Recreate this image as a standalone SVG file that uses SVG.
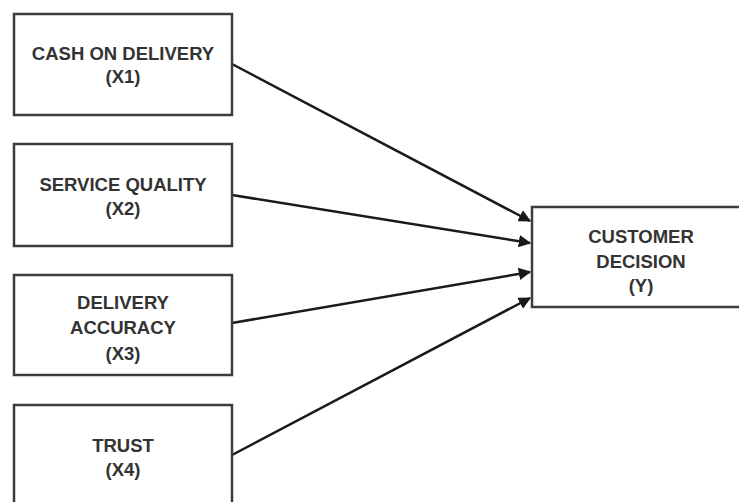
<svg xmlns="http://www.w3.org/2000/svg" width="739" height="502" viewBox="0 0 739 502">
<style>
.box{fill:#fff;stroke:#3c3c3c;stroke-width:2.5}
.t{font-family:"Liberation Sans",Arial,sans-serif;font-weight:bold;font-size:18.5px;fill:#333;text-anchor:middle}
.c{stroke:#1a1a1a;stroke-width:2.5;fill:none;marker-end:url(#ah)}
</style>
<defs>
<marker id="ah" viewBox="0 0 10 10" refX="9" refY="5" markerWidth="5" markerHeight="5" orient="auto" markerUnits="strokeWidth">
<path d="M0,0 L10,5 L0,10 z" fill="#1a1a1a"/>
</marker>
</defs>
<rect width="739" height="502" fill="#fff"/>
<g id="connectors">
<line class="c" x1="232" y1="64" x2="530" y2="221"/>
<line class="c" x1="232" y1="195" x2="530" y2="243"/>
<line class="c" x1="232" y1="323" x2="530" y2="272"/>
<line class="c" x1="232" y1="455" x2="530" y2="298"/>
</g>
<g id="x1">
<rect class="box" x="14" y="14" width="218" height="101"/>
<text class="t" x="123" y="60">CASH ON DELIVERY</text>
<text class="t" x="123" y="83">(X1)</text>
</g>
<g id="x2">
<rect class="box" x="14" y="144" width="218" height="102"/>
<text class="t" x="123" y="191">SERVICE QUALITY</text>
<text class="t" x="123" y="215">(X2)</text>
</g>
<g id="x3">
<rect class="box" x="14" y="275" width="218" height="100"/>
<text class="t" x="123" y="309">DELIVERY</text>
<text class="t" x="123" y="334">ACCURACY</text>
<text class="t" x="123" y="360">(X3)</text>
</g>
<g id="x4">
<rect class="box" x="14" y="405" width="218" height="105"/>
<text class="t" x="123" y="452">TRUST</text>
<text class="t" x="123" y="476">(X4)</text>
</g>
<g id="y">
<rect class="box" x="532" y="207" width="215" height="100"/>
<text class="t" x="641" y="243">CUSTOMER</text>
<text class="t" x="641" y="268">DECISION</text>
<text class="t" x="641" y="292">(Y)</text>
</g>
</svg>
